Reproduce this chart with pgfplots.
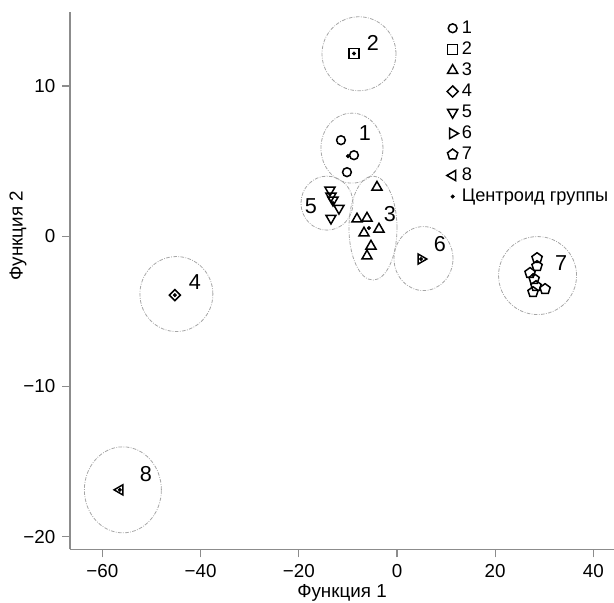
\documentclass[border=0pt]{standalone}
\usepackage{fontspec}
\setmainfont{Liberation Sans}
\usepackage{pgfplots}
\pgfplotsset{compat=1.18}
\definecolor{axgray}{HTML}{8C8C8C}
\definecolor{elgray}{HTML}{A6A6A6}
\begin{document}
\fontsize{9.4}{11.2}\selectfont
\begin{tikzpicture}
\begin{axis}[
  scale only axis,
  width=272pt, height=268.6pt,
  xmin=-66.6, xmax=44.2, ymin=-20.85, ymax=14.9,
  axis x line*=bottom, axis y line*=left,
  axis line style={axgray, line width=0.9pt},
  xtick={-60,-40,-20,0,20,40},
  xticklabels={−60,−40,−20,0,20,40},
  ytick={-20,-10,0,10},
  yticklabels={−20,−10,0,10},
  tick style={axgray, line width=0.6pt},
  tick align=outside,
  major tick length=4pt,
  xlabel={Функция 1}, ylabel={Функция 2},
  xlabel style={at={(axis description cs:0.5,0)}, anchor=base, yshift=-23.75pt},
  ylabel style={at={(axis description cs:0,0.584)}, anchor=center, yshift=26pt},
  legend style={at={(axis description cs:0.677,0.995)}, anchor=north west,
    draw=none, fill=none, row sep=1.6pt, font=\fontsize{9.1}{10.8}\selectfont,
    nodes={inner sep=0.6pt, anchor=west}},
  legend cell align=left,
  legend image code/.code={\path (-3.6pt,0pt) (3.6pt,0pt); \draw[#1] plot coordinates {(0pt,0pt)};},
  mymark/.style={only marks, black, mark size=2.2pt, line width=0.75pt, mark options={solid, black}},
  trimark/.style={mymark, mark=triangle, mark size=2.9pt},
]
% group ellipses
\begin{scope}[elgray, line width=0.4pt, dash pattern=on 1.8pt off 0.7pt on 0.4pt off 0.7pt]
\draw (axis cs:-9.17,5.86) ellipse [x radius=15.5pt, y radius=17.5pt];
\draw (axis cs:-7.74,12.14) ellipse [x radius=18.5pt, y radius=18.5pt];
\draw (axis cs:-4.89,0.54) ellipse [x radius=12pt, y radius=26pt];
\draw (axis cs:-44.93,-3.85) ellipse [x radius=18.25pt, y radius=18.75pt];
\draw (axis cs:-14.26,2.2) ellipse [x radius=13pt, y radius=13.5pt];
\draw (axis cs:5.40,-1.49) ellipse [x radius=14.75pt, y radius=16pt];
\draw (axis cs:28.63,-2.62) ellipse [x radius=19.5pt, y radius=19.5pt];
\draw (axis cs:-55.83,-16.88) ellipse [x radius=19.25pt, y radius=21.5pt];
\end{scope}
\addplot[mymark, mark=o] coordinates {(-11.41,6.39) (-8.76,5.39) (-10.19,4.26)};
\addlegendentry{1}
\addplot[mymark, mark=square, mark size=2.5pt] coordinates {(-8.76,12.16)};
\addlegendentry{2}
\addplot[trimark] coordinates {(-4.08,3.26) (-8.15,1.14) (-6.11,1.20) (-3.67,0.47) (-6.72,0.21) (-5.30,-0.66) (-6.11,-1.32)};
\addlegendentry{3}
\addplot[mymark, mark=square, mark size=1.95pt, mark options={rotate=45}] coordinates {(-45.24,-3.92)};
\addlegendentry{4}
\addplot[trimark, mark options={rotate=180}] coordinates {(-13.65,3.07) (-13.45,2.67) (-13.04,2.40) (-11.82,1.86) (-13.45,1.20)};
\addlegendentry{5}
\addplot[trimark, mark options={rotate=-90}] coordinates {(4.89,-1.52)};
\addlegendentry{6}
\addplot[mymark, mark=pentagon, mark size=2.7pt] coordinates {(28.53,-1.46) (28.53,-1.99) (27.10,-2.45) (27.92,-2.85) (28.32,-3.32) (27.71,-3.72) (30.16,-3.52)};
\addlegendentry{7}
\addplot[trimark, mark options={rotate=90}] coordinates {(-56.44,-16.88)};
\addlegendentry{8}
\addplot[only marks, black, mark=*, mark size=0.8pt, mark options={fill=black}] coordinates {(-9.98,5.33) (-8.76,12.16) (-5.71,0.54) (-45.24,-3.92) (-13.04,2.2) (4.89,-1.52) (27.71,-2.59) (-56.44,-16.88)};
\addlegendentry{Центроид группы}
% group labels
\begin{scope}[font=\fontsize{10.8}{12.5}\selectfont]
\node at (axis cs:-6.52,6.86) {1};
\node at (axis cs:-4.89,12.85) {2};
\node at (axis cs:-1.43,1.47) {3};
\node at (axis cs:-41.16,-3.03) {4};
\node at (axis cs:-17.52,2.0) {5};
\node at (axis cs:8.76,-0.53) {6};
\node at (axis cs:33.42,-1.79) {7};
\node at (axis cs:-51.15,-15.82) {8};
\end{scope}
\coordinate (sw) at (rel axis cs:0,0);
\coordinate (ne) at (rel axis cs:1,1);
\end{axis}
\pgfresetboundingbox
\path ([shift={(-35pt,-26.75pt)}]sw) rectangle ([shift={(0pt,6.15pt)}]ne);
\end{tikzpicture}
\end{document}
